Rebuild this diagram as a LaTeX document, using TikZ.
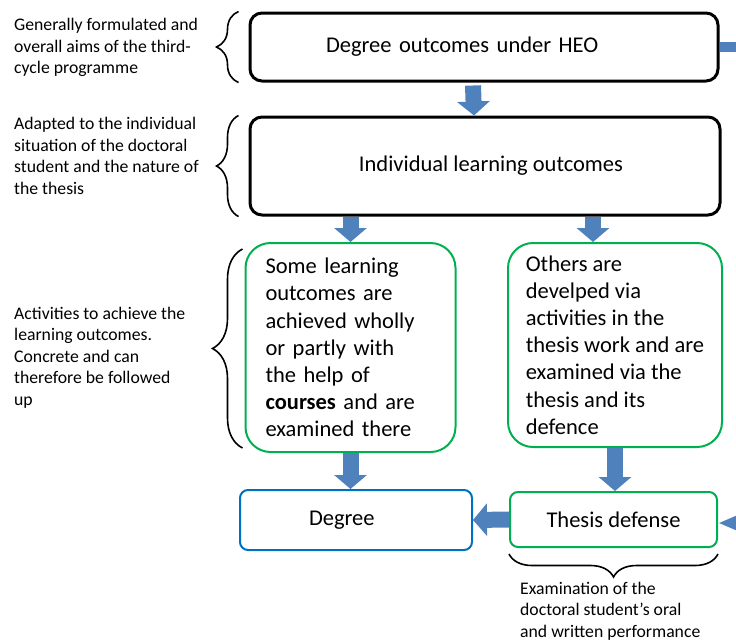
\documentclass[tikz,border=0pt]{standalone}
\usepackage{fontspec}
\setmainfont{Carlito}
\usetikzlibrary{arrows.meta,decorations.pathreplacing,calc}
\definecolor{arrowblue}{RGB}{79,129,189}
\definecolor{boxgreen}{RGB}{0,176,80}
\definecolor{boxblue}{RGB}{0,112,192}

\begin{document}
\begin{tikzpicture}[x=1pt, y=-1pt,
  outcomebox/.style={draw=black, line width=3pt, rounded corners=12pt, font=\fontsize{22.5}{27}\selectfont},
  activitybox/.style={draw=boxgreen, line width=2pt, rounded corners=25pt, align=left, font=\fontsize{22.5}{27.2}\selectfont},
  smallbox/.style={line width=2pt, rounded corners=8pt, font=\fontsize{22.5}{27}\selectfont},
  note/.style={align=left, inner sep=0pt, anchor=west, font=\fontsize{17.7}{21.5}\selectfont},
  fatarrow/.style={arrowblue, line width=16pt, -{Triangle[length=14pt,width=32pt]}},
  sidebrace/.style={decorate, decoration={brace, amplitude=#1}, line width=1.6pt}]
\useasboundingbox (0,0) rectangle (736,641);
\coordinate (rightedge) at (736,0);

% the two outcome levels
\node[outcomebox, minimum width=468pt, minimum height=68pt, text width=316pt, inner xsep=76pt, align=left] (heo) at (484,47) {Degree outcomes under HEO};
\node[outcomebox, minimum width=470pt, minimum height=98pt] (ilo) at (485,166) {\hspace*{12pt}Individual learning outcomes};

% activities
\node[activitybox, text width=170pt, inner xsep=20pt, minimum height=209pt] (courses) at (350.5,347.5) {Some learning\\ outcomes are\\ achieved wholly\\ or partly with\\ the help of\\ \textbf{courses} and are\\ examined there};
\node[activitybox, minimum width=214pt, minimum height=204pt] (thesiswork) at (615,345) {Others are\\ develped via\\ activities in the\\ thesis work and are\\ examined via the\\ thesis and its\\ defence};

% final boxes
\node[smallbox, draw=boxblue, minimum width=232pt, minimum height=60pt, text width=94pt, inner xsep=69pt, align=left] (degree) at (356,520) {Degree};
\node[smallbox, draw=boxgreen, minimum width=207pt, minimum height=55pt] (defense) at (613.5,519.5) {Thesis defense};

% block arrows
\draw[fatarrow] ($(heo.south)+(-11,3)$) -- ($(ilo.north)+(-11,0)$);
\draw[fatarrow] (courses.north |- ilo.south) -- (courses.north);
\draw[fatarrow] ($(thesiswork.north |- ilo.south)+(-22,0)$) -- ($(thesiswork.north)+(-22,0)$);
\draw[fatarrow] (courses.south) -- (courses.south |- degree.north);
\draw[fatarrow] (thesiswork.south) -- (thesiswork.south |- defense.north);
\draw[fatarrow] (defense.west) -- (degree.east);
\draw[arrowblue, line width=10pt] (heo.east) -- (heo.east -| rightedge);
\coordinate (defin) at (736,523);
\draw[arrowblue, line width=6pt, -{Triangle[length=22pt,width=16pt]}] (defin) -- (defin -| defense.east);

% braces and notes
\draw[sidebrace=22pt] ($(heo.south west)+(-10,0)$) -- ($(heo.north west)+(-10,0)$);
\draw[sidebrace=22pt] ($(ilo.south west)+(-10,0)$) -- ($(ilo.north west)+(-10,0)$);
\draw[sidebrace=30pt] ($(courses.south west)+(-2,-5)$) -- ($(courses.north west)+(-2,7)$);
\draw[sidebrace=23pt] ($(defense.south east)+(0,6)$) -- ($(defense.south west)+(0,6)$);

\node[note] (aims) at (14,47.5) {Generally formulated and\\ overall aims of the third-\\ cycle programme};
\node[note] (adapted) at (14,156) {Adapted to the individual\\ situation of the doctoral\\ student and the nature of\\ the thesis};
\node[note] (activities) at (14,357.5) {Activities to achieve the\\ learning outcomes.\\ Concrete and can\\ therefore be followed\\ up};
\node[note] (exam) at (520,611) {Examination of the\\ doctoral student’s oral\\ and written performance};
\end{tikzpicture}
\end{document}
